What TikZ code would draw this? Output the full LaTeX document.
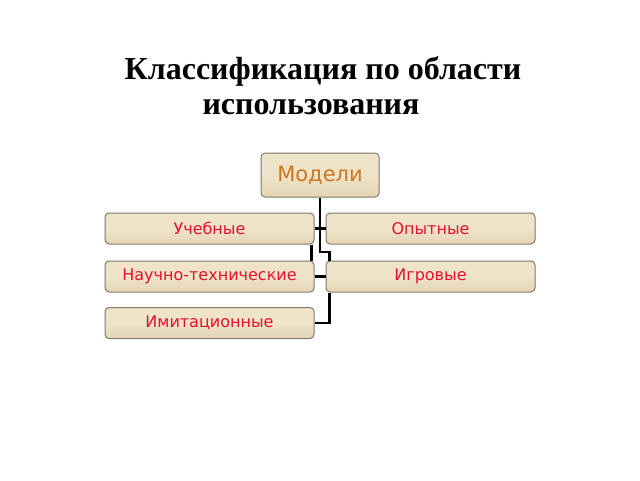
\documentclass[tikz,border=0pt]{standalone}
\usepackage{fontspec}
\setmainfont{Liberation Serif}
\newfontfamily\boxfont{DejaVu Sans}
\usetikzlibrary{calc}
\definecolor{parch}{HTML}{EFE4CA}
\definecolor{parchdark}{HTML}{E3D4B2}
\definecolor{boxedge}{HTML}{7E7A6C}
\definecolor{labred}{HTML}{E8102A}
\definecolor{laborange}{HTML}{CF7420}
\tikzset{
  box/.style={draw=boxedge, line width=1pt, rounded corners=4pt,
    top color=parch, bottom color=parchdark, middle color=parch,
    inner sep=0pt, font=\boxfont\fontsize{16}{19}\selectfont, text=labred},
  rootbox/.style={box, font=\boxfont\fontsize{21}{25}\selectfont, text=laborange},
  conn/.style={draw=black, line width=2.5pt},
  titletext/.style={font=\bfseries\fontsize{32}{35}\selectfont, text=black, inner sep=0pt, anchor=base}
}
\begin{document}
\begin{tikzpicture}[x=1pt,y=-1pt]
\useasboundingbox (0,0) rectangle (640,480);
\fill[white] (0,0) rectangle (640,480);
\node[titletext] (t1) at (323,79) {Классификация по области};
\node[titletext] (t2) at (311,114) {использования};
% boxes
\node[rootbox, minimum width=118pt, minimum height=44pt] (M) at (320,175) {Модели};
\node[box, minimum width=209pt, minimum height=31pt] (U) at (209.5,228.5) {Учебные};
\node[box, minimum width=209pt, minimum height=31pt] (O) at (430.5,228.5) {Опытные};
\node[box, minimum width=209pt, minimum height=31pt] (N) at (209.5,276.5) {Научно-технические};
\node[box, minimum width=209pt, minimum height=31pt] (I) at (430.5,276.5) {Игровые};
\node[box, minimum width=209pt, minimum height=31pt] (Im) at (209.5,323) {Имитационные};
% connectors
\coordinate (j1) at ($(I.north west)+(4,0)$);
\draw[conn] (M.south) -- (M.south |- 0,252) -| (j1);
\draw[conn] (U.east) -- (O.west);
\draw[conn] ($(U.south east)+(-3,0)$) -- ($(N.north east)+(-3,0)$);
\draw[conn] (N.east) -- (I.west);
\coordinate (j2) at ($(I.south west)+(4,0)$);
\draw[conn] (j2) |- (Im.east);
\end{tikzpicture}
\end{document}
